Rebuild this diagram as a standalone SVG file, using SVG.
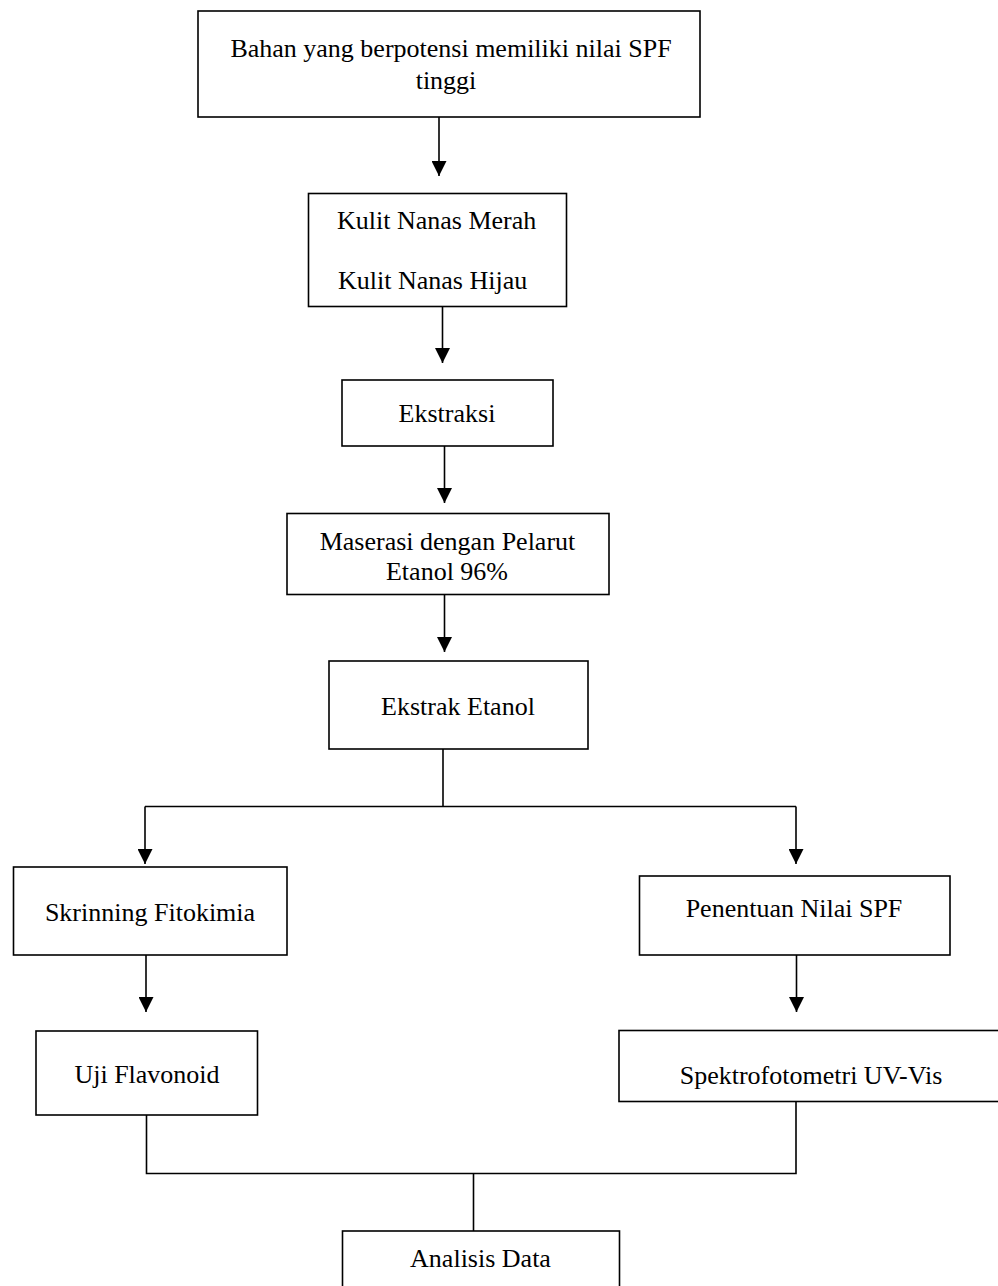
<svg xmlns="http://www.w3.org/2000/svg" width="998" height="1286" viewBox="0 0 998 1286">
<defs>
<style>
.box{fill:#fff;stroke:#000;stroke-width:1.6}
.t{font-family:"Liberation Serif","Times New Roman",serif;font-size:26px;fill:#000;text-anchor:middle}
.c{fill:none;stroke:#000;stroke-width:1.6}
</style>
<marker id="ah" markerUnits="userSpaceOnUse" markerWidth="15" markerHeight="15" viewBox="0 0 15 15" refX="15" refY="7.5" orient="auto">
<path d="M0,0 L15,7.5 L0,15 z" fill="#000"/>
</marker>
</defs>
<rect width="998" height="1286" fill="#fff"/>
<g id="connectors">
<line class="c" x1="439" y1="117" x2="439" y2="176" marker-end="url(#ah)"/>
<line class="c" x1="442.5" y1="307" x2="442.5" y2="363" marker-end="url(#ah)"/>
<line class="c" x1="444.5" y1="446" x2="444.5" y2="503" marker-end="url(#ah)"/>
<line class="c" x1="444.5" y1="594" x2="444.5" y2="652" marker-end="url(#ah)"/>
<polyline class="c" points="443,749 443,806.5"/>
<polyline class="c" points="145,806.5 796,806.5"/>
<line class="c" x1="145" y1="806.5" x2="145" y2="864" marker-end="url(#ah)"/>
<line class="c" x1="796" y1="806.5" x2="796" y2="864" marker-end="url(#ah)"/>
<line class="c" x1="146" y1="955" x2="146" y2="1012" marker-end="url(#ah)"/>
<line class="c" x1="796.5" y1="955" x2="796.5" y2="1012" marker-end="url(#ah)"/>
<polyline class="c" points="146.5,1115 146.5,1173.5 796,1173.5 796,1101"/>
<line class="c" x1="473.5" y1="1173.5" x2="473.5" y2="1231"/>
</g>
<g id="n1"><rect class="box" x="198" y="11" width="502" height="106"/><text class="t" x="451" y="57">Bahan yang berpotensi memiliki nilai SPF</text><text class="t" x="446" y="89">tinggi</text></g>
<g id="n2"><rect class="box" x="308.5" y="193.5" width="258" height="113"/><text class="t" x="337" y="229" style="text-anchor:start">Kulit Nanas Merah</text><text class="t" x="338" y="289" style="text-anchor:start">Kulit Nanas Hijau</text></g>
<g id="n3"><rect class="box" x="342" y="380" width="211" height="66"/><text class="t" x="447" y="422">Ekstraksi</text></g>
<g id="n4"><rect class="box" x="287" y="513.5" width="322" height="81"/><text class="t" x="447.5" y="550">Maserasi dengan Pelarut</text><text class="t" x="447" y="580">Etanol 96%</text></g>
<g id="n5"><rect class="box" x="329" y="661" width="259" height="88"/><text class="t" x="458" y="715">Ekstrak Etanol</text></g>
<g id="n6"><rect class="box" x="13.5" y="867" width="273.5" height="88"/><text class="t" x="150" y="921">Skrinning Fitokimia</text></g>
<g id="n7"><rect class="box" x="639.5" y="876" width="310.5" height="79"/><text class="t" x="794" y="917">Penentuan Nilai SPF</text></g>
<g id="n8"><rect class="box" x="36" y="1031" width="221.5" height="84"/><text class="t" x="147" y="1083">Uji Flavonoid</text></g>
<g id="n9"><rect class="box" x="619" y="1030.5" width="390" height="71"/><text class="t" x="811" y="1084">Spektrofotometri UV-Vis</text></g>
<g id="n10"><rect class="box" x="342.5" y="1231" width="277" height="80"/><text class="t" x="480.5" y="1267">Analisis Data</text></g>
</svg>
